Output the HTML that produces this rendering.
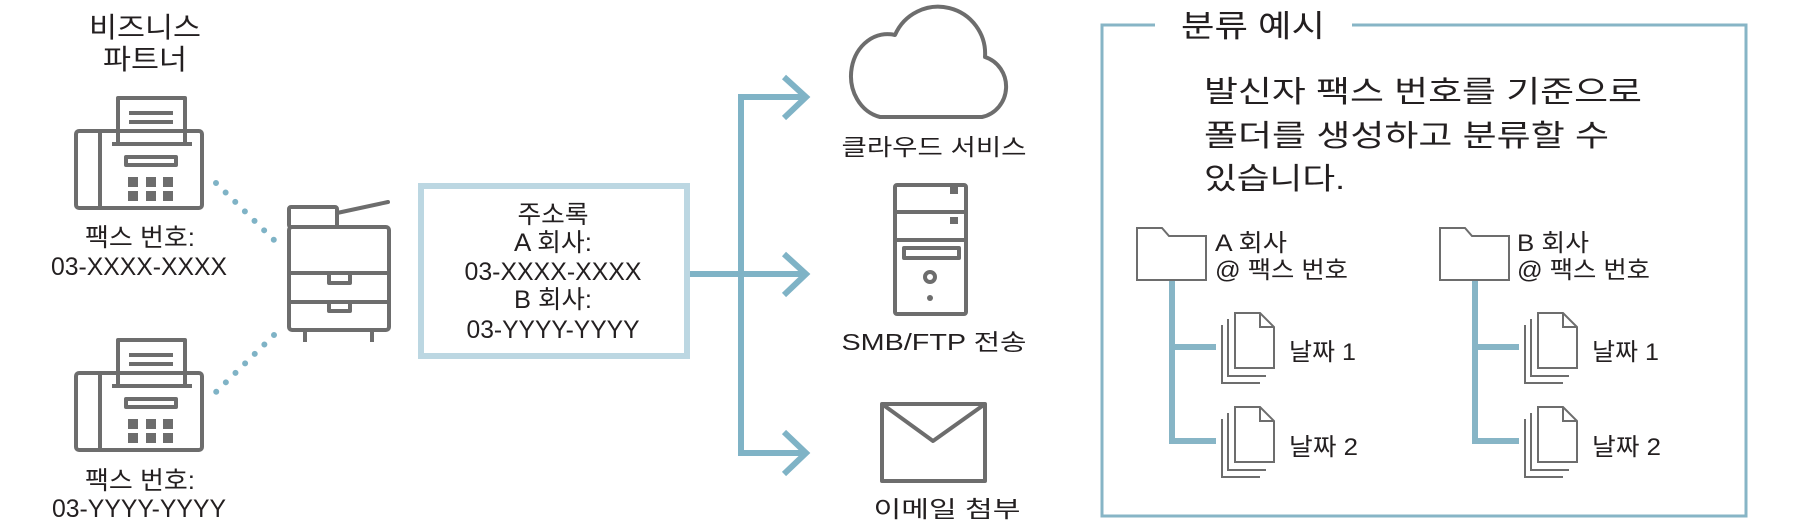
<!DOCTYPE html>
<html><head><meta charset="utf-8"><style>
html,body{margin:0;padding:0;background:#fff;}
svg{display:block;}
text{font-family:"Liberation Sans","Noto Sans CJK KR",sans-serif;fill:#231f20;}
</style></head><body>
<svg width="1800" height="523" viewBox="0 0 1800 523" xmlns="http://www.w3.org/2000/svg">
<defs>
<g id="fax" fill="none" stroke="#6d6d6d" stroke-width="4" stroke-linejoin="round">
  <rect x="76" y="131" width="126" height="77" rx="3"/>
  <line x1="100" y1="131" x2="100" y2="208"/>
  <path d="M118 143 V98 H185 V143"/>
  <line x1="112" y1="144" x2="192" y2="144"/>
  <line x1="129" y1="113" x2="173" y2="113"/>
  <line x1="129" y1="122" x2="173" y2="122"/>
  <line x1="129" y1="131" x2="173" y2="131"/>
  <rect x="126" y="157" width="50" height="8"/>
  <g fill="#6d6d6d" stroke="none">
    <rect x="128" y="177" width="10" height="10"/><rect x="146" y="177" width="10" height="10"/><rect x="163" y="177" width="10" height="10"/>
    <rect x="128" y="191" width="10" height="10"/><rect x="146" y="191" width="10" height="10"/><rect x="163" y="191" width="10" height="10"/>
  </g>
</g>
<g id="docs" fill="none" stroke="#6d6d6d" stroke-width="2">
  <path d="M1222 325 V383 H1260"/>
  <path d="M1228 319 V376 H1266"/>
  <path d="M1235 313 H1260 L1274 327 V368 H1235 Z"/>
  <path d="M1260 313 V327 H1274"/>
</g>
<g id="folder" fill="#fff" stroke="#6d6d6d" stroke-width="2">
  <path d="M1137 280 V228 H1162 L1169 236 H1206 V280 Z"/>
</g>
</defs>

<!-- left title -->
<text x="145" y="37" font-size="28" text-anchor="middle" textLength="112" lengthAdjust="spacingAndGlyphs">비즈니스</text>
<text x="145" y="69" font-size="28" text-anchor="middle" textLength="84" lengthAdjust="spacingAndGlyphs">파트너</text>

<use href="#fax"/>
<use href="#fax" y="242"/>

<text x="140" y="246" font-size="25" text-anchor="middle" textLength="110" lengthAdjust="spacingAndGlyphs">팩스 번호:</text>
<text x="139" y="275" font-size="25" text-anchor="middle" textLength="176" lengthAdjust="spacingAndGlyphs">03-XXXX-XXXX</text>
<text x="140" y="489" font-size="25" text-anchor="middle" textLength="110" lengthAdjust="spacingAndGlyphs">팩스 번호:</text>
<text x="139" y="517" font-size="25" text-anchor="middle" textLength="174" lengthAdjust="spacingAndGlyphs">03-YYYY-YYYY</text>

<!-- dotted lines -->
<line x1="216" y1="183" x2="274" y2="240" stroke="#7fb3c6" stroke-width="6" stroke-linecap="round" stroke-dasharray="0 13.5"/>
<line x1="274" y1="335" x2="216" y2="392" stroke="#7fb3c6" stroke-width="6" stroke-linecap="round" stroke-dasharray="0 13.5"/>

<!-- printer -->
<g fill="none" stroke="#6d6d6d" stroke-width="4" stroke-linejoin="round">
  <rect x="289" y="207" width="48" height="20" rx="2"/>
  <line x1="337" y1="213" x2="388" y2="202" stroke-linecap="round"/>
  <rect x="289" y="227" width="100" height="103" rx="3"/>
  <line x1="289" y1="273" x2="389" y2="273"/>
  <line x1="289" y1="302" x2="389" y2="302"/>
  <path d="M329 273 V283 H350 V273"/>
  <path d="M329 302 V311 H350 V302"/>
  <line x1="305" y1="330" x2="305" y2="342"/>
  <line x1="372" y1="330" x2="372" y2="342"/>
</g>

<!-- address box -->
<rect x="421" y="186" width="266" height="170" fill="none" stroke="#bcd7e2" stroke-width="6"/>
<text x="553" y="223" font-size="25" text-anchor="middle" textLength="71" lengthAdjust="spacingAndGlyphs">주소록</text>
<text x="553" y="251" font-size="25" text-anchor="middle" textLength="78" lengthAdjust="spacingAndGlyphs">A 회사:</text>
<text x="553" y="280" font-size="25" text-anchor="middle" textLength="177" lengthAdjust="spacingAndGlyphs">03-XXXX-XXXX</text>
<text x="553" y="308" font-size="25" text-anchor="middle" textLength="78" lengthAdjust="spacingAndGlyphs">B 회사:</text>
<text x="553" y="338" font-size="25" text-anchor="middle" textLength="173" lengthAdjust="spacingAndGlyphs">03-YYYY-YYYY</text>

<!-- connectors -->
<g fill="none" stroke="#7fb3c6" stroke-width="6">
  <line x1="690" y1="274" x2="806" y2="274"/>
  <path d="M804 97 H741 V453 H804"/>
  <path d="M784 77 L806 97 L784 118"/>
  <path d="M784 254 L806 274 L784 295"/>
  <path d="M784 432 L806 453 L784 474"/>
</g>

<!-- cloud -->
<path d="M880 117 A27 31 0 0 1 895 35 A47 47 0 0 1 985 57 A30 31 0 0 1 982 117 Z" fill="none" stroke="#6d6d6d" stroke-width="4" stroke-linejoin="round"/>
<text x="934" y="155" font-size="23" text-anchor="middle" textLength="185" lengthAdjust="spacingAndGlyphs">클라우드 서비스</text>

<!-- server -->
<g fill="none" stroke="#6d6d6d" stroke-width="4" stroke-linejoin="round">
  <rect x="895" y="185" width="71" height="129" rx="2"/>
  <line x1="895" y1="212" x2="966" y2="212"/>
  <line x1="895" y1="240" x2="966" y2="240"/>
  <rect x="904" y="248" width="55" height="10"/>
  <circle cx="930" cy="277" r="5"/>
</g>
<g fill="#6d6d6d">
  <rect x="950" y="187" width="8" height="7"/>
  <rect x="950" y="217" width="8" height="7"/>
  <circle cx="930" cy="298" r="3"/>
</g>
<text x="934" y="350" font-size="23" text-anchor="middle" textLength="185" lengthAdjust="spacingAndGlyphs">SMB/FTP 전송</text>

<!-- envelope -->
<g fill="none" stroke="#6d6d6d" stroke-width="4" stroke-linejoin="round">
  <rect x="882" y="404" width="103" height="77"/>
  <path d="M882 404 L933 441 L985 404"/>
</g>
<text x="947" y="517" font-size="23" text-anchor="middle" textLength="147" lengthAdjust="spacingAndGlyphs">이메일 첨부</text>

<!-- right frame -->
<path d="M1155 25 H1102 V516 H1746 V25 H1352" fill="none" stroke="#87b5c6" stroke-width="3"/>
<text x="1181" y="37" font-size="31" textLength="144" lengthAdjust="spacingAndGlyphs">분류 예시</text>
<text x="1204" y="102" font-size="30" textLength="438" lengthAdjust="spacingAndGlyphs">발신자 팩스 번호를 기준으로</text>
<text x="1204" y="146" font-size="30" textLength="405" lengthAdjust="spacingAndGlyphs">폴더를 생성하고 분류할 수</text>
<text x="1204" y="189" font-size="30" textLength="141" lengthAdjust="spacingAndGlyphs">있습니다.</text>

<!-- trees -->
<g fill="none" stroke="#87b5c6" stroke-width="6">
  <path d="M1172 280 V441 H1216"/>
  <line x1="1172" y1="347" x2="1216" y2="347"/>
  <path d="M1475 280 V441 H1519"/>
  <line x1="1475" y1="347" x2="1519" y2="347"/>
</g>
<use href="#folder"/>
<use href="#docs"/>
<use href="#docs" y="94"/>
<text x="1215" y="251" font-size="24" textLength="72" lengthAdjust="spacingAndGlyphs">A 회사</text>
<text x="1215" y="278" font-size="24" textLength="133" lengthAdjust="spacingAndGlyphs">@ 팩스 번호</text>
<text x="1289" y="360" font-size="24" textLength="67" lengthAdjust="spacingAndGlyphs">날짜 1</text>
<text x="1289" y="455" font-size="24" textLength="69" lengthAdjust="spacingAndGlyphs">날짜 2</text>

<use href="#folder" x="303"/>
<use href="#docs" x="303"/>
<use href="#docs" x="303" y="94"/>
<text x="1517" y="251" font-size="24" textLength="72" lengthAdjust="spacingAndGlyphs">B 회사</text>
<text x="1517" y="278" font-size="24" textLength="133" lengthAdjust="spacingAndGlyphs">@ 팩스 번호</text>
<text x="1592" y="360" font-size="24" textLength="67" lengthAdjust="spacingAndGlyphs">날짜 1</text>
<text x="1592" y="455" font-size="24" textLength="69" lengthAdjust="spacingAndGlyphs">날짜 2</text>
</svg>
</body></html>
